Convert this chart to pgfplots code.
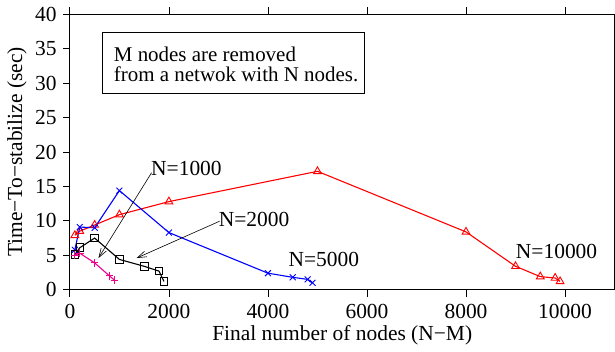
\documentclass[border=0pt]{standalone}
\usepackage{fontspec}
\setmainfont{Liberation Serif}
\usepackage{pgfplots}
\pgfplotsset{compat=1.18}
\usetikzlibrary{arrows.meta}
\begin{document}
\fontsize{21.5}{21.5}\selectfont
\begin{tikzpicture}
\begin{axis}[
  scale only axis, width=546pt, height=276pt,
  xmin=0, xmax=11000, ymin=0, ymax=40,
  xtick={0,2000,4000,6000,8000,10000},
  ytick={0,5,10,15,20,25,30,35,40},
  scaled x ticks=false,
  /pgf/number format/assume math mode=true,
  xticklabel style={/pgf/number format/1000 sep={}},
  yticklabel style={xshift=1pt},
  tick align=outside, ytick pos=left, xtick pos=both,
  major tick length=7pt,
  tick style={black, line width=0.8pt},
  axis line style={line width=0.9pt},
  xlabel={Final number of nodes (N\textminus M)},
  ylabel={Time\textminus To\textminus stabilize (sec)},
  xlabel style={yshift=8pt},
  ylabel style={yshift=-6pt},
  every tick label/.append style={font=\fontsize{21.5}{21.5}\selectfont},
  label style={font=\fontsize{21.5}{21.5}\selectfont},
  clip=false,
]
% N=10000
\addplot[red, line width=1.1pt, mark=triangle, mark size=4.5pt, mark options={solid, line width=0.9pt}] coordinates {
(100,7.9)(200,8.5)(500,9.4)(1000,10.9)(2000,12.8)(5000,17.2)(8000,8.4)(9000,3.4)(9500,1.9)(9800,1.7)(9900,1.2)};
% N=5000
\addplot[blue, line width=1.1pt, mark=x, mark size=4.2pt, mark options={solid, line width=0.9pt}] coordinates {
(100,5.8)(200,9.1)(500,9.0)(1000,14.4)(2000,8.3)(4000,2.4)(4500,1.8)(4800,1.5)(4900,1.0)};
% N=2000
\addplot[black, line width=1.1pt, mark=square, mark size=3.8pt, mark options={solid, line width=0.9pt}] coordinates {
(100,5.1)(200,6.1)(500,7.5)(1000,4.4)(1500,3.4)(1800,2.7)(1900,1.2)};
% N=1000
\addplot[magenta, line width=1.1pt, mark=+, mark size=3.8pt, mark options={solid, line width=0.9pt}] coordinates {
(100,5.0)(200,5.3)(500,3.9)(800,2.0)(900,1.4)};
% annotations
\draw[line width=0.8pt] (axis cs:664,37.4) rectangle (axis cs:5956,28.5);
\node[anchor=west, align=left, inner sep=0pt, font=\fontsize{21}{20}\selectfont] at (axis cs:885,32.7) {M nodes are removed\\from a netwok with N nodes.};
\node at (axis cs:2354,17.6) {N=1000};
\node at (axis cs:3720,10.2) {N=2000};
\node at (axis cs:5130,4.4) {N=5000};
\node at (axis cs:9829,5.6) {N=10000};
\draw[line width=0.6pt, -{Straight Barb[length=9pt,width=6pt]}] (axis cs:1650,17.0) -- (axis cs:577,4.6);
\draw[line width=0.6pt, -{Straight Barb[length=9pt,width=6pt]}] (axis cs:3024,9.95) -- (axis cs:1348,4.6);
\end{axis}
\end{tikzpicture}
\end{document}
